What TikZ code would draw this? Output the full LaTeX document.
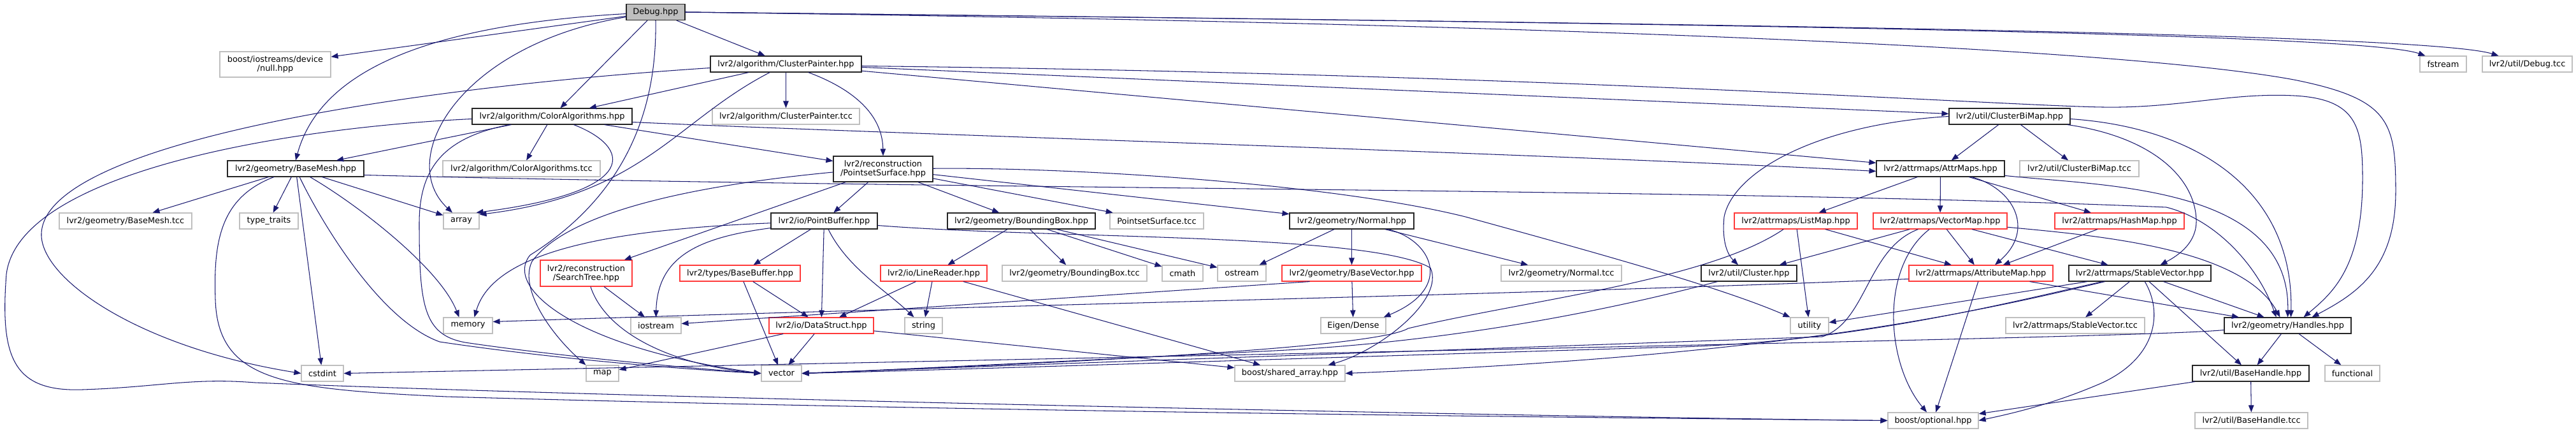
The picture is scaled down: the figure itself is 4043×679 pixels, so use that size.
\documentclass[tikz,border=0pt]{standalone}
\usepackage{fontspec}
\setmainfont{DejaVu Sans}
\usetikzlibrary{arrows.meta}
\definecolor{edgec}{HTML}{191970}
\definecolor{greyb}{HTML}{BFBFBF}
\definecolor{redb}{HTML}{FF3A3A}
\definecolor{dbg}{HTML}{BFBFBF}
\newcommand\dxf{\fontsize{12.9pt}{14pt}\selectfont}
\tikzset{
  nb/.style={draw=black!85, fill=white, line width=1.1pt, inner sep=0pt, minimum height=25pt, font=\dxf},
  ng/.style={nb, draw=greyb},
  nr/.style={nb, draw=redb},
  dep/.style={draw=edgec, line width=1.05pt, -{Triangle[length=11pt,width=8.5pt]}}
}
\begin{document}
\begin{tikzpicture}[x=1pt,y=-1pt]
\fill[white] (0,0) rectangle (4043,679);
\useasboundingbox (0,0) rectangle (4043,679);
% nodes
\node[nb, fill=dbg, minimum width=92pt] (D) at (1029,19) {Debug.hpp};
\node[ng, minimum width=174pt, minimum height=40pt, align=center] (nul) at (432,101) {boost/iostreams/device\\/null.hpp};
\node[nb, minimum width=237pt] (CP) at (1233.5,100.5) {lvr2/algorithm/ClusterPainter.hpp};
\node[ng, minimum width=73pt] (FS) at (3834.5,100.5) {fstream};
\node[ng, minimum width=141pt] (DT) at (3966.5,100.5) {lvr2/util/Debug.tcc};
\node[nb, minimum width=251pt] (CA) at (866.5,182.5) {lvr2/algorithm/ColorAlgorithms.hpp};
\node[ng, minimum width=231pt] (CPT) at (1233.5,182.5) {lvr2/algorithm/ClusterPainter.tcc};
\node[nb, minimum width=190pt] (CBM) at (3154,182.5) {lvr2/util/ClusterBiMap.hpp};
\node[nb, minimum width=214pt] (BM) at (464,264.5) {lvr2/geometry/BaseMesh.hpp};
\node[ng, minimum width=247pt] (CAT) at (818.5,264.5) {lvr2/algorithm/ColorAlgorithms.tcc};
\node[nb, minimum width=156pt, minimum height=40pt, align=center] (PS) at (1386,265) {lvr2/reconstruction\\/PointsetSurface.hpp};
\node[nb, minimum width=201pt] (AM) at (3045.5,264.5) {lvr2/attrmaps/AttrMaps.hpp};
\node[ng, minimum width=187pt] (CBMT) at (3263.5,264.5) {lvr2/util/ClusterBiMap.tcc};
\node[ng, minimum width=208pt] (BMT) at (197,346.5) {lvr2/geometry/BaseMesh.tcc};
\node[ng, minimum width=92pt] (TT) at (422,346.5) {type\_traits};
\node[ng, minimum width=56pt] (AR) at (724,346.5) {array};
\node[nb, minimum width=167pt] (PB) at (1293.5,346.5) {lvr2/io/PointBuffer.hpp};
\node[nb, minimum width=232pt] (BB) at (1603,346.5) {lvr2/geometry/BoundingBox.hpp};
\node[ng, minimum width=147pt] (PST) at (1815.5,346.5) {PointsetSurface.tcc};
\node[nb, minimum width=195pt] (NO) at (2121.5,346.5) {lvr2/geometry/Normal.hpp};
\node[nr, minimum width=193pt] (LM) at (2818.5,346.5) {lvr2/attrmaps/ListMap.hpp};
\node[nr, minimum width=210pt] (VM) at (3045,346.5) {lvr2/attrmaps/VectorMap.hpp};
\node[nr, minimum width=203pt] (HM) at (3326.5,346.5) {lvr2/attrmaps/HashMap.hpp};
\node[nr, minimum width=144pt, minimum height=41pt, align=center] (ST) at (920,428.5) {lvr2/reconstruction\\/SearchTree.hpp};
\node[nr, minimum width=189pt] (BBuf) at (1161.5,428.5) {lvr2/types/BaseBuffer.hpp};
\node[nr, minimum width=167pt] (LR) at (1465.5,428.5) {lvr2/io/LineReader.hpp};
\node[ng, minimum width=227pt] (BBT) at (1686.5,428.5) {lvr2/geometry/BoundingBox.tcc};
\node[ng, minimum width=64pt] (CM) at (1856,428.5) {cmath};
\node[ng, minimum width=76pt] (OS) at (1949,428.5) {ostream};
\node[nr, minimum width=219pt] (BV) at (2121.5,428.5) {lvr2/geometry/BaseVector.hpp};
\node[ng, minimum width=189pt] (NT) at (2450.5,428.5) {lvr2/geometry/Normal.tcc};
\node[nb, minimum width=150pt] (CL) at (2745,428.5) {lvr2/util/Cluster.hpp};
\node[nr, minimum width=226pt] (AtM) at (3109,428.5) {lvr2/attrmaps/AttributeMap.hpp};
\node[nb, minimum width=223pt] (SV) at (3358.5,428.5) {lvr2/attrmaps/StableVector.hpp};
\node[ng, minimum width=77pt] (MEM) at (734.5,510.5) {memory};
\node[ng, minimum width=79pt] (IOS) at (1029.5,510.5) {iostream};
\node[nr, minimum width=164pt] (DS) at (1289,510.5) {lvr2/io/DataStruct.hpp};
\node[ng, minimum width=59pt] (STR) at (1449.5,510.5) {string};
\node[ng, minimum width=102pt] (ED) at (2124,510.5) {Eigen/Dense};
\node[ng, minimum width=60pt] (UT) at (2840,510.5) {utility};
\node[ng, minimum width=218pt] (SVT) at (3257,510.5) {lvr2/attrmaps/StableVector.tcc};
\node[nb, minimum width=199pt] (H) at (3590.5,510.5) {lvr2/geometry/Handles.hpp};
\node[ng, minimum width=66pt] (CSI) at (506,585.5) {cstdint};
\node[ng, minimum width=51pt] (MAP) at (945.5,585.5) {map};
\node[ng, minimum width=63pt] (VEC) at (1226.5,585.5) {vector};
\node[ng, minimum width=173pt] (SA) at (2024.5,585.5) {boost/shared\_array.hpp};
\node[nb, minimum width=183pt] (BH) at (3532.5,585.5) {lvr2/util/BaseHandle.hpp};
\node[ng, minimum width=86pt] (FN) at (3692,585.5) {functional};
\node[ng, minimum width=142pt] (BO) at (3034,659.5) {boost/optional.hpp};
\node[ng, minimum width=177pt] (BHT) at (3533.5,659.5) {lvr2/util/BaseHandle.tcc};
% D
\draw[dep] (D) -- (nul);
\draw[dep] (D) .. controls (650,40) and (500,120) .. (BM.north);
\draw[dep] (D) -- (CA);
\draw[dep] (D) -- (CP);
\draw[dep] (D) .. controls (720,70) and (620,250) .. ([xshift=-14pt]AR.north);
\draw[dep] (D.south) .. controls (1032,200) and (960,320) .. (832,400) .. controls (790,450) and (900,545) .. (VEC.west);
\draw[dep] (D.east) .. controls (2500,35) and (3700,50) .. ([xshift=-28pt]FS.north);
\draw[dep] (D.east) .. controls (2500,35) and (3800,50) .. ([xshift=-45pt]DT.north);
\draw[dep] (D.east) .. controls (2300,35) and (3300,70) .. (3600,125) .. controls (3750,155) and (3760,190) .. (3760,300) .. controls (3760,420) and (3700,460) .. ([xshift=38pt]H.north);
% CP
\draw[dep] (CP) -- (CA);
\draw[dep] (CP) -- (CPT);
\draw[dep] (CP) .. controls (1340,140) and (1385,180) .. (PS.north);
\draw[dep] (CP) -- (CBM);
\draw[dep] (CP) -- (AM);
\draw[dep] ([yshift=-3pt]CP.east) .. controls (2400,115) and (3150,166) .. (3300,168) .. controls (3420,170) and (3500,145) .. (3600,150) .. controls (3700,155) and (3708,200) .. (3708,280) .. controls (3708,420) and (3660,460) .. ([xshift=25pt]H.north);
\draw[dep] ([yshift=-6pt]CP.west) .. controls (600,140) and (60,230) .. (65,370) .. controls (68,440) and (220,545) .. (CSI.west);
\draw[dep] (CP) .. controls (1060,190) and (1010,305) .. ([yshift=-3pt]AR.north east);
% CA
\draw[dep] (CA) -- (BM);
\draw[dep] ([yshift=-4pt]CA.west) .. controls (450,200) and (30,270) .. (10,430) .. controls (0,560) and (20,615) .. (130,611) .. controls (250,607) and (300,592) .. (400,600) .. controls (1000,625) and (2500,655) .. (BO.west);
\draw[dep] (CA) -- (CAT);
\draw[dep] (CA) .. controls (990,230) and (1010,300) .. ([xshift=-5pt]AR.north east);
\draw[dep] (CA) -- (PS);
\draw[dep] ([yshift=-9pt]CA.east) .. controls (1400,210) and (2400,240) .. ([yshift=-4pt]AM.west);
\draw[dep] (CA) .. controls (700,215) and (658,260) .. (658,350) .. controls (658,480) and (665,525) .. (730,537) .. controls (850,555) and (1050,575) .. (VEC.west);
% BM
\draw[dep] (BM) -- (BMT);
\draw[dep] (BM) -- (TT);
\draw[dep] (BM) -- (CSI);
\draw[dep] (BM) -- (AR);
\draw[dep] (BM) .. controls (560,320) and (690,420) .. ([xshift=-14pt]MEM.north);
\draw[dep] (BM) .. controls (495,330) and (590,500) .. (690,536) .. controls (850,560) and (1050,578) .. (VEC.west);
\draw[dep] (BM) .. controls (345,310) and (335,380) .. (338,470) .. controls (342,600) and (450,610) .. (700,622) .. controls (1500,645) and (2500,655) .. (BO.west);
\draw[dep] ([yshift=-10pt]BM.east) .. controls (1500,298) and (2700,295) .. (3400,325) .. controls (3480,345) and (3545,420) .. ([xshift=-18pt]H.north);
% PS
\draw[dep] (PS) -- (PB);
\draw[dep] (PS) -- (BB);
\draw[dep] (PS) -- (PST);
\draw[dep] (PS) -- (NO);
\draw[dep] (PS) -- (ST);
\draw[dep] (PS) .. controls (1700,262) and (2100,290) .. (2300,340) .. controls (2500,395) and (2700,450) .. (UT.north west);
\draw[dep] ([yshift=-5pt]PS.west) .. controls (1150,285) and (900,320) .. (835,410) .. controls (815,450) and (860,520) .. (MAP.north west);
% CBM
\draw[dep] (CBM) -- (AM);
\draw[dep] (CBM) -- (CBMT);
\draw[dep] (CBM.west) .. controls (2850,195) and (2720,270) .. (2706,340) .. controls (2702,380) and (2712,400) .. ([xshift=-17pt]CL.north);
\draw[dep] (CBM) .. controls (3380,215) and (3445,280) .. (3447,345) .. controls (3448,380) and (3420,400) .. ([xshift=32pt]SV.north);
\draw[dep] ([yshift=-4pt]CBM.east) .. controls (3450,200) and (3600,300) .. ([xshift=5pt]H.north);
% AM
\draw[dep] (AM) -- (LM);
\draw[dep] (AM) -- (VM);
\draw[dep] (AM) -- (HM);
\draw[dep] (AM) .. controls (3160,295) and (3195,360) .. ([xshift=22pt]AtM.north);
\draw[dep] (AM) .. controls (3300,292) and (3595,290) .. (H.north);
% VM
\draw[dep] (VM) -- (CL);
\draw[dep] (VM) .. controls (2930,390) and (2930,505) .. (2860,528) .. controls (2300,548) and (1600,572) .. (VEC.east);
\draw[dep] (VM) .. controls (2950,420) and (2960,570) .. ([xshift=-10pt]BO.north);
\draw[dep] (VM) -- (AtM);
\draw[dep] (VM) -- (SV);
\draw[dep] (VM) .. controls (3300,370) and (3520,390) .. ([xshift=-12pt]H.north);
% LM, HM
\draw[dep] (LM) .. controls (2680,440) and (2400,470) .. (2210,515) .. controls (2160,545) and (1700,568) .. (VEC.east);
\draw[dep] (LM) -- (UT);
\draw[dep] (LM) -- (AtM);
\draw[dep] (HM) -- (AtM);
% SV
\draw[dep] (SV) -- (UT);
\draw[dep] (SV) .. controls (3150,475) and (2900,540) .. (2600,545) .. controls (2100,560) and (1500,580) .. (VEC.east);
\draw[dep] (SV) .. controls (3100,490) and (2800,558) .. (SA.east);
\draw[dep] (SV) .. controls (3395,490) and (3385,560) .. (3300,600) .. controls (3220,635) and (3150,650) .. (BO.east);
\draw[dep] (SV) -- (BH);
\draw[dep] (SV) -- (H);
\draw[dep] (SV) -- (SVT);
% CL, AtM
\draw[dep] (CL) .. controls (2550,480) and (2300,535) .. (2000,550) .. controls (1700,565) and (1400,580) .. (VEC.east);
\draw[dep] ([yshift=-9pt]AtM.west) .. controls (2400,462) and (1500,480) .. ([yshift=6pt]MEM.east);
\draw[dep] (AtM) -- (BO);
\draw[dep] (AtM) -- (H);
% ST, BBuf, DS, LR
\draw[dep] (ST) -- (IOS);
\draw[dep] (ST) .. controls (950,520) and (1050,572) .. (VEC.west);
\draw[dep] (BBuf) -- (DS);
\draw[dep] (BBuf) -- (VEC);
\draw[dep] (DS) -- (VEC);
\draw[dep] (DS) -- (MAP);
\draw[dep] (DS) -- (SA);
\draw[dep] (LR) -- (DS);
\draw[dep] (LR) -- (STR);
\draw[dep] (LR) -- (SA);
% PB
\draw[dep] (PB) .. controls (900,362) and (770,410) .. ([xshift=10pt]MEM.north);
\draw[dep] (PB) .. controls (1100,372) and (1032,400) .. (IOS.north);
\draw[dep] (PB) -- (BBuf);
\draw[dep] (PB) -- (DS);
\draw[dep] (PB) .. controls (1330,420) and (1390,455) .. ([xshift=-15pt]STR.north);
\draw[dep] ([yshift=-7pt]PB.east) .. controls (1650,375) and (2150,365) .. (2245,420) .. controls (2268,470) and (2165,550) .. ([xshift=60pt]SA.north);
% BB
\draw[dep] (BB) -- (LR);
\draw[dep] (BB) -- (BBT);
\draw[dep] (BB) -- (CM);
\draw[dep] (BB) -- (OS);
% NO, BV
\draw[dep] (NO) -- (OS);
\draw[dep] (NO) -- (BV);
\draw[dep] (NO) .. controls (2245,375) and (2285,450) .. ([xshift=-4pt]ED.north east);
\draw[dep] (NO) -- (NT);
\draw[dep] (BV) -- (ED);
\draw[dep] ([xshift=-66pt]BV.south) -- ([yshift=3pt]IOS.east);
% H, BH
\draw[dep] (H) -- (BH);
\draw[dep] (H) -- (FN);
\draw[dep] ([yshift=-7pt]H.west) .. controls (3400,526) and (2900,537) .. (CSI.east);
\draw[dep] (BH) -- (BHT);
\draw[dep] (BH) -- (BO);
\end{tikzpicture}
\end{document}
